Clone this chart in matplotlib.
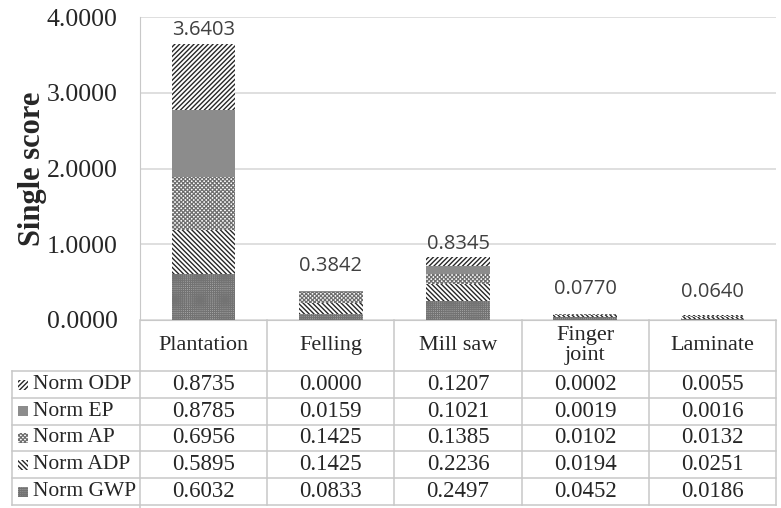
import matplotlib
matplotlib.use("Agg")
import matplotlib.pyplot as plt
import matplotlib.transforms as mtransforms
from matplotlib.lines import Line2D
from matplotlib.patches import Rectangle
import numpy as np

# ---- data -----------------------------------------------------------------
stages = ["Plantation", "Felling", "Mill saw", "Finger\njoint", "Laminate"]
series_names = ["Norm ODP", "Norm EP", "Norm AP", "Norm ADP", "Norm GWP"]
norm_odp = [0.8735, 0.0000, 0.1207, 0.0002, 0.0055]
norm_ep = [0.8785, 0.0159, 0.1021, 0.0019, 0.0016]
norm_ap = [0.6956, 0.1425, 0.1385, 0.0102, 0.0132]
norm_adp = [0.5895, 0.1425, 0.2236, 0.0194, 0.0251]
norm_gwp = [0.6032, 0.0833, 0.2497, 0.0452, 0.0186]
totals = [3.6403, 0.3842, 0.8345, 0.0770, 0.0640]
y_ticks = [0.0, 1.0, 2.0, 3.0, 4.0]

# ---- styles ---------------------------------------------------------------
# (face colour, hatch colour, hatch, hatch width) per series
styles = {
    "Norm ODP": ("white", "#262626", "///////", 1.0),
    "Norm EP": ("#8c8c8c", "#8c8c8c", None, 1.0),
    "Norm AP": ("white", "#6e6e6e", "xxxxxxxx", 0.9),
    "Norm ADP": ("white", "#262626", "\\\\\\\\\\\\\\", 1.0),
    "Norm GWP": ("#a8a8a8", "#737373", "++++++++", 0.8),
}
label_lift_px = [14, 25, 13, 25, 23]

W, H = 781, 508
plt.rcParams["hatch.linewidth"] = 1.0
serif = ["Liberation Serif", "DejaVu Serif"]
grid_c = "#d9d9d9"
line_c = "#c8c8c8"
text_c = "#262626"

fig = plt.figure(figsize=(W / 100, H / 100), dpi=100)


def fx(px):
    return px / W


def fy(py):
    return 1 - py / H


def set_hatch_width(patch, lw):
    if hasattr(patch, "set_hatch_linewidth"):
        patch.set_hatch_linewidth(lw)


ax = fig.add_axes([fx(140), fy(320), fx(776) - fx(140), fy(17) - fy(320)])

x = np.arange(len(stages))
stack_bottom_up = [("Norm GWP", norm_gwp), ("Norm ADP", norm_adp),
                   ("Norm AP", norm_ap), ("Norm EP", norm_ep),
                   ("Norm ODP", norm_odp)]
bottom = np.zeros(len(stages))
for name, vals in stack_bottom_up:
    face, hc, hatch, hlw = styles[name]
    bars = ax.bar(x, vals, width=0.5, bottom=bottom, color=face,
                  edgecolor=hc, hatch=hatch, linewidth=0, zorder=3)
    for p in bars:
        set_hatch_width(p, hlw)
    bottom = bottom + np.array(vals)

for xi, top, t, lift in zip(x, bottom, totals, label_lift_px):
    ax.annotate(f"{t:.4f}", (xi, top), xytext=(0, lift * 0.72),
                textcoords="offset points", ha="center", va="center",
                fontsize=14.5, family=["Open Sans", "DejaVu Sans"],
                color="#404040", zorder=4)

ax.set_xlim(-0.5, len(stages) - 0.5)
ax.set_ylim(0, 4)
ax.set_yticks(y_ticks)
ax.set_yticklabels([f"{v:.4f}" for v in y_ticks], family=serif,
                   fontsize=18.5, color=text_c)
ax.set_xticks([])
ax.tick_params(axis="y", length=0, pad=16)
ax.yaxis.grid(True, color=grid_c, linewidth=1.2, zorder=0)
ax.set_axisbelow(True)
for s in ["top", "right"]:
    ax.spines[s].set_visible(False)
ax.spines["left"].set_color(line_c)
ax.spines["bottom"].set_color(line_c)
ax.set_ylabel("Single score", family=serif, fontsize=22, fontweight="bold",
              color=text_c, labelpad=0)

# ---- data table under the plot ---------------------------------------------
bt = mtransforms.blended_transform_factory(ax.transData, fig.transFigure)
row_edges_px = [320, 371, 398, 424.5, 451, 478, 505]
x_left = -0.5
x_right = len(stages) - 0.5
label_left_px = 12

# horizontal rules
for py in row_edges_px[1:]:
    fig.add_artist(Line2D([fx(label_left_px), fx(776)], [fy(py), fy(py)],
                          color=line_c, linewidth=1.1))
# vertical rules
for b in np.arange(x_left, x_right + 0.01, 1.0):
    bot_px = 508 if b == x_left else row_edges_px[-1]
    fig.add_artist(Line2D([b, b], [fy(row_edges_px[0]), fy(bot_px)],
                          transform=bt, color=line_c, linewidth=1.1))
fig.add_artist(Line2D([fx(label_left_px)] * 2,
                      [fy(row_edges_px[1]), fy(row_edges_px[-1])],
                      color=line_c, linewidth=1.1))

# header row
hc_y = fy((row_edges_px[0] + row_edges_px[1]) / 2)
for xi, name in zip(x, stages):
    t = fig.text(0, hc_y, name, transform=bt, ha="center", va="center",
                 family=serif, fontsize=16, color=text_c, linespacing=1.05)
    t.set_x(xi)

# body rows
table_rows = [norm_odp, norm_ep, norm_ap, norm_adp, norm_gwp]
for r, (name, vals) in enumerate(zip(series_names, table_rows)):
    top_px, bot_px = row_edges_px[r + 1], row_edges_px[r + 2]
    cy = fy((top_px + bot_px) / 2)
    face, hc, hatch, hlw = styles[name]
    key = Rectangle((fx(18), cy - 5 / H), 10 / W, 10 / H,
                    transform=fig.transFigure, facecolor=face, edgecolor=hc,
                    hatch=hatch, linewidth=0)
    set_hatch_width(key, hlw)
    fig.add_artist(key)
    fig.text(fx(33), cy, name, ha="left", va="center", family=serif,
             fontsize=15.5, color=text_c)
    for xi, v in zip(x, vals):
        t = fig.text(0, cy, f"{v:.4f}", transform=bt, ha="center",
                     va="center", family=serif, fontsize=16.5, color=text_c)
        t.set_x(xi)

fig.savefig("out.png", dpi=100)
